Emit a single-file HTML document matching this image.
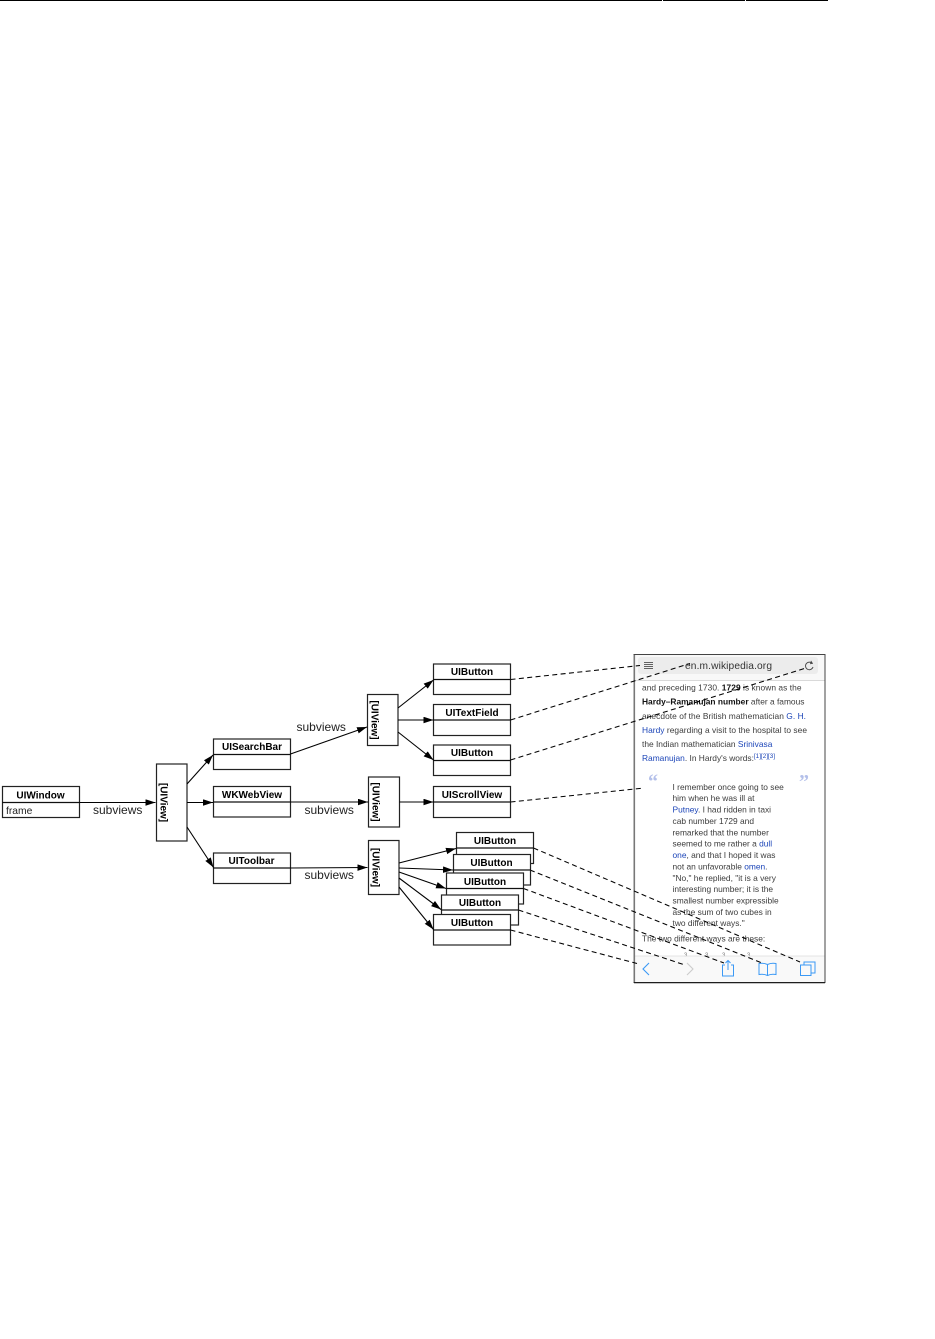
<!DOCTYPE html>
<html><head><meta charset="utf-8"><style>
html,body{margin:0;padding:0;background:#fff;width:935px;height:1339px;overflow:hidden}
svg{display:block;filter:blur(.35px)}
text{font-family:"Liberation Sans",sans-serif}
.b{fill:#fff;stroke:#222;stroke-width:1.2}
.d{stroke:#111;stroke-width:1.2;fill:none}
.t{font-weight:bold;font-size:10px;text-anchor:middle;fill:#000}
.s{font-size:12px;fill:#222}
.l{stroke:#000;stroke-width:1.1;fill:none;marker-end:url(#a)}
.da{stroke:#000;stroke-width:1.05;stroke-dasharray:5 3.4;fill:none}
.p text{font-size:8.4px;fill:#3c3c3c}
.p .k{fill:#1c45b8}
.p .h{font-weight:bold;fill:#111}
</style></head><body>
<svg width="935" height="1339" viewBox="0 0 935 1339" xmlns="http://www.w3.org/2000/svg">
<defs><marker id="a" markerUnits="userSpaceOnUse" markerWidth="11" markerHeight="8" refX="10" refY="3.25" orient="auto"><path d="M0 0L10 3.25L0 6.500z" fill="#000"/></marker></defs>
<rect x="0" y="0" width="662" height="1" fill="#000"/><rect x="663" y="0" width="82" height="1" fill="#000"/><rect x="746" y="0" width="82" height="1" fill="#000"/>

<!-- phone panel -->
<g class="p">
<rect x="634" y="654.500" width="191" height="328" fill="#fff"/>
<rect x="634" y="655" width="191" height="25" fill="#f8f8f8"/>
<rect x="638" y="657" width="180" height="17" rx="3" fill="#ececec"/>
<line x1="634" y1="680.500" x2="825" y2="680.500" stroke="#ccc" stroke-width=".7"/>
<path d="M644 662.500h9M644 664.500h9M644 666.500h9M644 668.500h9" stroke="#333" stroke-width=".7"/>
<text x="685" y="669" style="font-size:10.2px;fill:#333" textLength="87">en.m.wikipedia.org</text>
<path d="M812.500 663.800A3.800 3.800 0 1 0 813 667" fill="none" stroke="#444" stroke-width=".9"/><path d="M811 660.500l2 3-3 .8z" fill="#444"/>
<text x="642" y="690.500" textLength="159.500">and preceding 1730. <tspan class="h">1729</tspan> is known as the</text>
<text x="642" y="704.500"><tspan class="h">Hardy–Ramanujan number</tspan> after a famous</text>
<text x="642" y="719" textLength="164">anecdote of the British mathematician <tspan class="k">G. H.</tspan></text>
<text x="642" y="733" textLength="165">
<tspan class="k">Hardy</tspan> regarding a visit to the hospital to see</text>
<text x="642" y="747">the Indian mathematician <tspan class="k">Srinivasa</tspan></text>
<text x="642" y="761"><tspan class="k">Ramanujan</tspan>. In Hardy's words:<tspan class="k" dy="-3" style="font-size:6.300px">[1][2][3]</tspan></text>
<text x="648" y="788" style="font:bold 20px 'Liberation Serif',serif;fill:#b4c0ea">“</text>
<text x="799" y="788" style="font:bold 20px 'Liberation Serif',serif;fill:#b4c0ea">”</text>
<text x="672.500" y="790">I remember once going to see</text>
<text x="672.500" y="801">him when he was ill at</text>
<text x="672.500" y="812.500"><tspan class="k">Putney</tspan>. I had ridden in taxi</text>
<text x="672.500" y="824">cab number 1729 and</text>
<text x="672.500" y="835.500">remarked that the number</text>
<text x="672.500" y="846.500">seemed to me rather a <tspan class="k">dull</tspan></text>
<text x="672.500" y="858"><tspan class="k">one</tspan>, and that I hoped it was</text>
<text x="672.500" y="869.500">not an unfavorable <tspan class="k">omen</tspan>.</text>
<text x="672.500" y="881">"No," he replied, "it is a very</text>
<text x="672.500" y="892">interesting number; it is the</text>
<text x="672.500" y="903.500">smallest number expressible</text>
<text x="672.500" y="915">as the sum of two cubes in</text>
<text x="672.500" y="926">two different ways."</text>
<text x="642" y="941.500">The two different ways are these:</text>
<text x="684" y="957" style="font-size:6px;fill:#777">3</text><text x="705" y="957" style="font-size:6px;fill:#777">3</text><text x="722" y="957" style="font-size:6px;fill:#777">3</text><text x="747" y="957" style="font-size:6px;fill:#777">3</text>
<rect x="635" y="956" width="190" height="27" fill="#f8f8f8" fill-opacity=".9"/>
<line x1="634" y1="956" x2="825" y2="956" stroke="#ddd" stroke-width=".7"/>
<path d="M649 963l-6 6 6 6" fill="none" stroke="#3b99f5" stroke-width="1.1"/>
<path d="M687 963l6 6-6 6" fill="none" stroke="#ccc" stroke-width="1.1"/>
<g fill="none" stroke="#3b99f5" stroke-width="1"><path d="M725 965h-2.500v11h11v-11h-2.500M728 970v-9M725.500 963l2.500-2.500 2.500 2.500"/>
<path d="M767.500 964.500c-3-1.500-6-1.500-8.500-1v11c2.500-.5 5.500-.5 8.500 1 3-1.500 6-1.500 8.500-1v-11c-2.500-.5-5.500-.5-8.500 1v11"/>
<rect x="800.500" y="965" width="10.500" height="10.500"/><path d="M804 965v-3h11v11h-4"/></g>
<rect x="634" y="654.500" width="191" height="328" fill="none" stroke="#444" stroke-width="1"/>
<line x1="634.300" y1="655" x2="634.300" y2="982" stroke="#777" stroke-width="1.600"/>
<line x1="634" y1="982.700" x2="825" y2="982.700" stroke="#111" stroke-width="1"/>
</g>

<!-- dashed -->
<path class="da" d="M510.500 679.500L640 665.500M510.500 720L690 663.500M510.500 760L806 668M510.500 802L644 788M533.500 848L800 962M530 870L762 963M523.500 888.500L724 963M518.500 910L685 965M510.500 930L637 963.500"/>

<!-- boxes -->
<g>
<rect class="b" x="2.500" y="786.500" width="77" height="31"/><line class="d" x1="2" y1="802.500" x2="80" y2="802.500"/>
<text class="t" x="40.500" y="798.500">UIWindow</text><text x="6" y="814" style="font-size:10.300px;fill:#222">frame</text>
<rect class="b" x="156.500" y="764" width="30.500" height="77"/>
<text class="t" transform="translate(160.500 802.500) rotate(90)" y="0">[UIView]</text>
<rect class="b" x="213.500" y="739" width="77" height="30.500"/><line class="d" x1="213" y1="754.500" x2="291" y2="754.500"/><text class="t" x="252" y="750">UISearchBar</text>
<rect class="b" x="213.500" y="786.500" width="77" height="30.500"/><line class="d" x1="213" y1="802" x2="291" y2="802"/><text class="t" x="252" y="798">WKWebView</text>
<rect class="b" x="213.500" y="853" width="77" height="30.500"/><line class="d" x1="213" y1="868" x2="291" y2="868"/><text class="t" x="251.500" y="864">UIToolbar</text>
<rect class="b" x="367.500" y="694.500" width="30.500" height="51"/><text class="t" transform="translate(371.500 720) rotate(90)">[UIView]</text>
<rect class="b" x="368.500" y="777" width="31" height="50"/><text class="t" transform="translate(372.500 802) rotate(90)">[UIView]</text>
<rect class="b" x="368.500" y="840.500" width="30.500" height="54"/><text class="t" transform="translate(372.500 867.500) rotate(90)">[UIView]</text>
<rect class="b" x="433.500" y="664" width="77" height="30.500"/><line class="d" x1="433" y1="679.500" x2="511" y2="679.500"/><text class="t" x="472" y="675">UIButton</text>
<rect class="b" x="433.500" y="704.500" width="77" height="31"/><line class="d" x1="433" y1="720" x2="511" y2="720"/><text class="t" x="472" y="716">UITextField</text>
<rect class="b" x="433.500" y="745" width="77" height="30.500"/><line class="d" x1="433" y1="760.500" x2="511" y2="760.500"/><text class="t" x="472" y="756">UIButton</text>
<rect class="b" x="433.500" y="786.500" width="77" height="31"/><line class="d" x1="433" y1="802" x2="511" y2="802"/><text class="t" x="472" y="798">UIScrollView</text>
<rect class="b" x="456.500" y="832.500" width="77" height="31"/><line class="d" x1="456" y1="848" x2="534" y2="848"/><text class="t" x="495" y="844">UIButton</text>
<rect class="b" x="453.500" y="854.500" width="77" height="30.500"/><line class="d" x1="453" y1="870" x2="531" y2="870"/><text class="t" x="491.500" y="866">UIButton</text>
<rect class="b" x="446.500" y="873" width="77" height="31"/><line class="d" x1="446" y1="888.500" x2="524" y2="888.500"/><text class="t" x="485" y="885">UIButton</text>
<rect class="b" x="441.500" y="895" width="77" height="30"/><line class="d" x1="441" y1="910" x2="519" y2="910"/><text class="t" x="480" y="906">UIButton</text>
<rect class="b" x="433.500" y="914.500" width="77" height="30.500"/><line class="d" x1="433" y1="930" x2="511" y2="930"/><text class="t" x="472" y="926">UIButton</text>
</g>

<!-- arrows -->
<path class="l" d="M79.500 802.500H155.500"/>
<path class="l" d="M187 784L213 755"/>
<path class="l" d="M187 802.500H213"/>
<path class="l" d="M187 827L213.500 867.500"/>
<path class="l" d="M290.500 754L367 727"/>
<path class="l" d="M290.500 802H368"/>
<path class="l" d="M290.500 868L367.500 867.500"/>
<path class="l" d="M398 708L433.500 680"/>
<path class="l" d="M398 720H433.500"/>
<path class="l" d="M398 732L433.500 760"/>
<path class="l" d="M399.500 802H433.500"/>
<path class="l" d="M399 863L456 848.500"/>
<path class="l" d="M399 868L453 870"/>
<path class="l" d="M399 872L446 888.500"/>
<path class="l" d="M399 878L441 909.500"/>
<path class="l" d="M399 887L433.500 929.500"/>

<text class="s" x="93" y="814">subviews</text>
<text class="s" x="296.500" y="731">subviews</text>
<text class="s" x="304.500" y="814">subviews</text>
<text class="s" x="304.500" y="879">subviews</text>
</svg>
</body></html>
